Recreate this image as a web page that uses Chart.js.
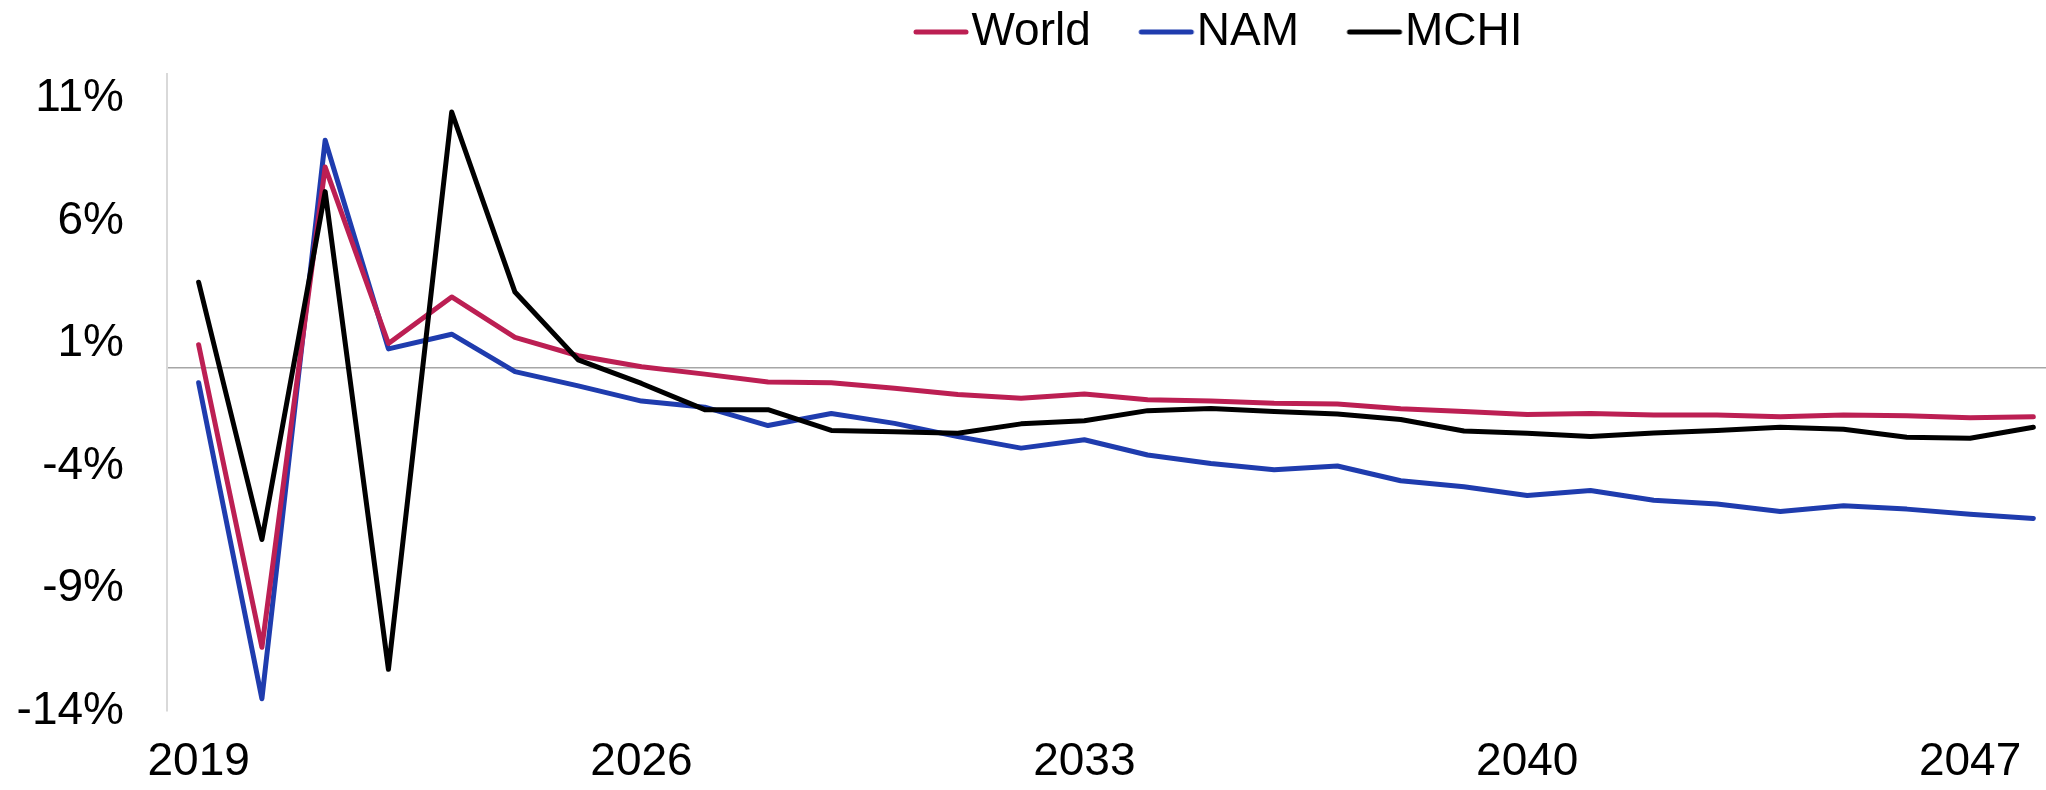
<!DOCTYPE html>
<html>
<head>
<meta charset="utf-8">
<script src="https://cdn.jsdelivr.net/npm/chart.js@4.4.1/dist/chart.umd.min.js"></script>
<style>
    html, body { margin: 0; padding: 0; background: #fff; }
    #wrap { width: 2046px; height: 790px; position: relative; }
</style>
</head>
<body>
<div id="wrap"><canvas id="growthChart"></canvas></div>
<script>
var years = [2019, 2020, 2021, 2022, 2023, 2024, 2025, 2026, 2027, 2028,
             2029, 2030, 2031, 2032, 2033, 2034, 2035, 2036, 2037, 2038,
             2039, 2040, 2041, 2042, 2043, 2044, 2045, 2046, 2047, 2048];

var world = [0.95, -11.4, 8.2, 1.0, 2.9, 1.25, 0.5, 0.05, -0.25, -0.57,
             -0.6, -0.83, -1.08, -1.23, -1.06, -1.3, -1.35, -1.44, -1.47, -1.66,
             -1.78, -1.9, -1.86, -1.92, -1.92, -1.99, -1.92, -1.95, -2.03, -1.99];

var nam = [-0.6, -13.5, 9.3, 0.78, 1.38, -0.15, -0.73, -1.35, -1.6, -2.35,
           -1.86, -2.26, -2.8, -3.27, -2.93, -3.55, -3.9, -4.15, -4.0, -4.6,
           -4.85, -5.2, -5.0, -5.4, -5.55, -5.86, -5.62, -5.76, -5.97, -6.14];

var mchi = [3.5, -7.0, 7.2, -12.3, 10.45, 3.1, 0.33, -0.63, -1.7, -1.7,
            -2.55, -2.6, -2.66, -2.28, -2.15, -1.74, -1.65, -1.78, -1.88, -2.1,
            -2.57, -2.66, -2.8, -2.65, -2.55, -2.42, -2.5, -2.83, -2.87, -2.42];

var xTickLabels = [2019, 2026, 2033, 2040, 2047];
var yTickLabels = [-14, -9, -4, 1, 6, 11];

Chart.defaults.font.family = "'Liberation Sans', Arial, sans-serif";
Chart.defaults.color = '#000';

// legend marker: short round-capped line, text starts right after it
function legendMark(color) {
    var c = document.createElement('canvas');
    c.width = 80;
    c.height = 10;
    var g = c.getContext('2d');
    g.strokeStyle = color;
    g.lineWidth = 5;
    g.lineCap = 'round';
    g.beginPath();
    g.moveTo(25, 5);
    g.lineTo(75, 5);
    g.stroke();
    return c;
}

function lineSet(label, values, color, order) {
    return {
        label: label,
        data: values,
        borderColor: color,
        backgroundColor: color,
        borderWidth: 5,
        borderCapStyle: 'round',
        borderJoinStyle: 'round',
        tension: 0,
        pointRadius: 0,
        pointHoverRadius: 0,
        pointStyle: legendMark(color),
        order: order
    };
}

// move the legend box a bit right and up, like the original
var legendShift = {
    id: 'legendShift',
    afterLayout: function(chart) {
        var lg = chart.legend;
        if (!lg) return;
        lg.left += 195;
        lg.right += 195;
        lg.top -= 39;
    }
};

var ctx = document.getElementById('growthChart').getContext('2d');
var growthChart = new Chart(ctx, {
    type: 'line',
    data: {
        labels: years,
        datasets: [
            lineSet('World', world, '#BC1F53', 1),
            lineSet('NAM', nam, '#1F3CAE', 2),
            lineSet('MCHI', mchi, '#000000', 0)
        ]
    },
    options: {
        responsive: true,
        maintainAspectRatio: false,
        animation: false,
        layout: { padding: 0 },
        plugins: {
            legend: {
                position: 'top',
                maxHeight: 74,
                labels: {
                    usePointStyle: true,
                    pointStyleWidth: 35,
                    padding: 48,
                    font: { size: 46 },
                    color: '#000',
                    sort: function(a, b) { return a.datasetIndex - b.datasetIndex; }
                }
            },
            tooltip: { enabled: false }
        },
        scales: {
            x: {
                type: 'linear',
                min: 2018.5,
                max: 2048.2,
                grid: { display: false, drawTicks: false },
                border: { display: false },
                afterFit: function(scale) { scale.height = 79; },
                afterBuildTicks: function(scale) {
                    scale.ticks = xTickLabels.map(function(v) { return { value: v }; });
                },
                ticks: {
                    padding: 24,
                    maxRotation: 0,
                    autoSkip: false,
                    font: { size: 46 },
                    color: '#000',
                    callback: function(value) { return String(value); }
                }
            },
            y: {
                min: -14,
                max: 12,
                afterFit: function(scale) { scale.width = 167; },
                afterBuildTicks: function(scale) {
                    var vals = yTickLabels.concat([0]).sort(function(a, b) { return a - b; });
                    scale.ticks = vals.map(function(v) { return { value: v }; });
                },
                grid: {
                    drawTicks: false,
                    lineWidth: 1.5,
                    color: function(c) {
                        return c.tick && c.tick.value === 0 ? '#a6a6a6' : 'rgba(0,0,0,0)';
                    }
                },
                border: { display: true, color: '#d9d9d9', width: 2 },
                ticks: {
                    padding: 43,
                    autoSkip: false,
                    font: { size: 46 },
                    color: '#000',
                    callback: function(value) { return value === 0 ? '' : value + '%'; }
                }
            }
        }
    },
    plugins: [legendShift]
});
</script>
</body>
</html>
